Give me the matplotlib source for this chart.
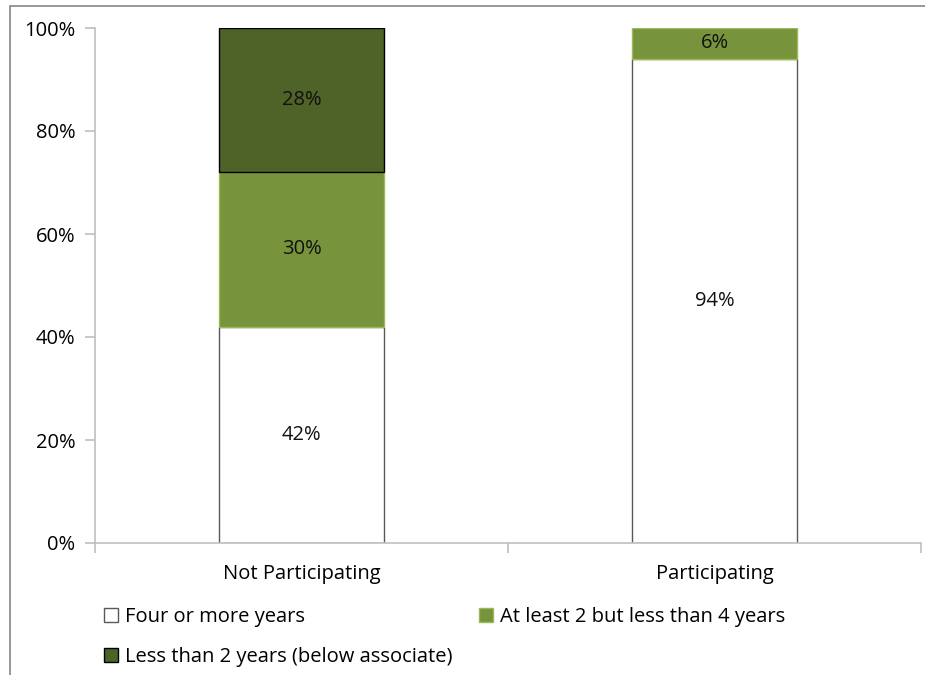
import numpy as np
import matplotlib.pyplot as plt
from matplotlib.patches import Rectangle
from matplotlib.ticker import PercentFormatter

plt.rcParams['font.family'] = ['Open Sans', 'DejaVu Sans']

groups = ['Not Participating', 'Participating']
series = ['Four or more years', 'At least 2 but less than 4 years',
          'Less than 2 years (below associate)']
four_plus = [42, 94]
two_to_four = [30, 6]
under_two = [28, 0]

colors = ['#FFFFFF', '#77933C', '#4F6228']
edges = ['#595959', '#9BBB59', '#000000']
fs = 14.5

fig = plt.figure(figsize=(9.25, 6.75), dpi=100)
ax = fig.add_axes([95 / 925, 1 - 543 / 675, (921 - 95) / 925, (543 - 28) / 675])

# chart frame
fig.patches.append(Rectangle((10 / 925, -0.1), 1.2, 1 - 6 / 675 + 0.1,
                             transform=fig.transFigure, fill=False,
                             edgecolor='#868686', linewidth=1.2))

index = np.arange(len(groups))
bar_width = 0.4
bottom = np.zeros(len(groups))
handles = []
for vals, col, ec, name in zip([four_plus, two_to_four, under_two], colors, edges, series):
    vals = np.array(vals, dtype=float)
    shown = vals > 0
    rects = ax.bar(index[shown], vals[shown], bar_width, bottom=bottom[shown],
                   color=col, edgecolor=ec, linewidth=1.0, label=name)
    handles.append(rects)
    for x, v, b in zip(index, vals, bottom):
        if v > 0:
            ax.text(x, b + v / 2, f'{v:.0f}%', ha='center', va='center',
                    fontsize=fs, color='#111111')
    bottom += vals

ax.set_xlim(-0.5, 1.5)
ax.set_ylim(0, 100)
ax.set_yticks(np.arange(0, 101, 20))
ax.yaxis.set_major_formatter(PercentFormatter(decimals=0))
ax.set_xticks([-0.5, 0.5, 1.5])
ax.set_xticklabels([])
ax.set_xticks(index, minor=True)
ax.set_xticklabels(groups, minor=True)
ax.tick_params(axis='x', which='minor', length=0, pad=15, labelsize=fs)
ax.tick_params(axis='x', which='major', length=7, color='#BFBFBF', width=1.2)
ax.tick_params(axis='y', length=7, color='#BFBFBF', width=1.2, labelsize=fs, pad=7)

for side in ['top', 'right']:
    ax.spines[side].set_visible(False)
for side in ['left', 'bottom']:
    ax.spines[side].set_color('#BFBFBF')
    ax.spines[side].set_linewidth(1.2)

leg = fig.legend([handles[0], handles[2], handles[1]],
                 [series[0], series[2], series[1]],
                 ncol=2, loc='upper left', bbox_to_anchor=(86 / 925, 1 - 589 / 675),
                 frameon=False, fontsize=fs, handlelength=0.7, handleheight=0.7,
                 handletextpad=0.35, columnspacing=1.3, labelspacing=1.0)

fig.savefig('out.png', dpi=100)
